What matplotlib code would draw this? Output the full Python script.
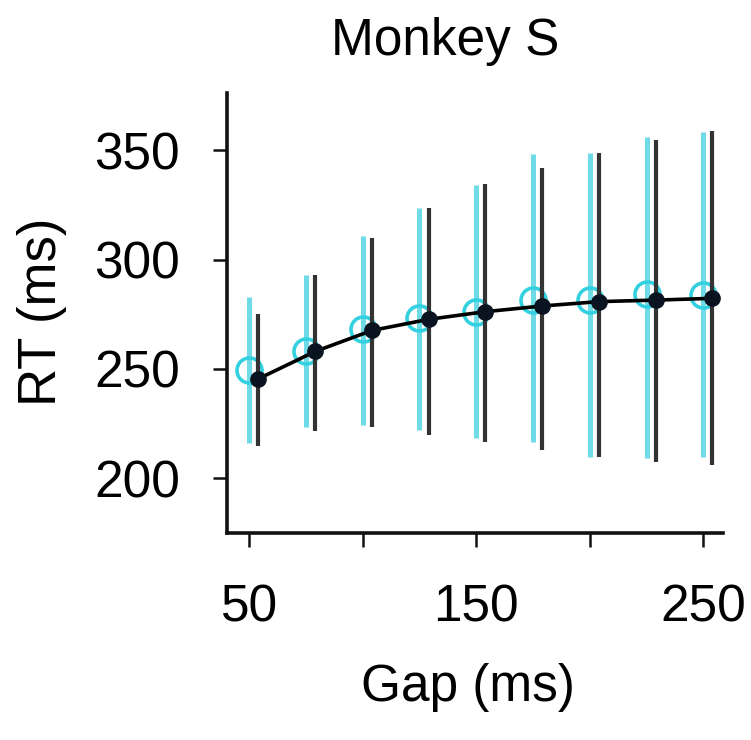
import matplotlib
matplotlib.use("Agg")
import matplotlib.pyplot as plt
import numpy as np

plt.rcParams['font.family'] = ['Liberation Sans', 'DejaVu Sans']

# gap durations (ms)
gaps = [50, 75, 100, 125, 150, 175, 200, 225, 250]

# cyan condition: mean RT and spread (low / high)
cyan_mean = [249.5, 258.4, 268.5, 273.2, 276.2, 281.5, 281.5, 284.3, 283.8]
cyan_low = [216.2, 223.6, 224.4, 222.1, 218.3, 216.8, 209.9, 209.1, 209.9]
cyan_high = [283.0, 293.0, 311.0, 323.5, 334.0, 348.5, 348.6, 356.0, 358.5]

# black condition
black_mean = [245.5, 258.0, 267.6, 272.7, 276.2, 278.8, 280.8, 281.5, 282.3]
black_low = [214.8, 221.8, 223.6, 219.8, 216.8, 213.0, 209.6, 207.6, 206.1]
black_high = [275.0, 293.0, 310.0, 323.5, 334.5, 342.0, 348.6, 354.5, 359.0]

xticks = [50, 100, 150, 200, 250]
xticklabels = ['50', '', '150', '', '250']
yticks = [200, 250, 300, 350]

CYAN = '#33d0df'
CYAN_BAR = '#6fdbe6'
DARK = '#333333'

fig = plt.figure(figsize=(7.51, 7.40), dpi=100)
ax = fig.add_axes([227 / 751, 1 - 533 / 740, 496 / 751, 440 / 740])

xc = np.array(gaps, dtype=float)
xb = xc + 4

ax.vlines(xc, cyan_low, cyan_high, color=CYAN_BAR, lw=3.6, zorder=2)
ax.plot(xc, cyan_mean, 'o', ms=18, mfc='none', mec=CYAN, mew=2.6, zorder=3)
ax.vlines(xb, black_low, black_high, color=DARK, lw=3.0, zorder=4)
ax.plot(xb, black_mean, '-', color='black', lw=2.6, zorder=5)
ax.plot(xb, black_mean, 'o', ms=11, color='#0a1420', zorder=6)

ax.set_xlim(40.2, 258.7)
ax.set_ylim(175.0, 376.2)
ax.set_xticks(xticks)
ax.set_xticklabels(xticklabels)
ax.set_yticks(yticks)

for s in ['top', 'right']:
    ax.spines[s].set_visible(False)
for s in ['left', 'bottom']:
    ax.spines[s].set_linewidth(2.6)
    ax.spines[s].set_color('#111111')

ax.tick_params(axis='both', direction='out', length=10, width=1.8,
               labelsize=37, color='#111111')
ax.tick_params(axis='x', pad=26)
ax.tick_params(axis='y', pad=24)

fig.text(445 / 751, 1 - 42 / 740, 'Monkey S', ha='center', va='center',
         fontsize=37)
fig.text(468 / 751, 1 - 688 / 740, 'Gap (ms)', ha='center', va='center',
         fontsize=37)
fig.text(42 / 751, 1 - 312 / 740, 'RT (ms)', ha='center', va='center',
         fontsize=38, rotation=90)

fig.savefig('out.png', dpi=100)
